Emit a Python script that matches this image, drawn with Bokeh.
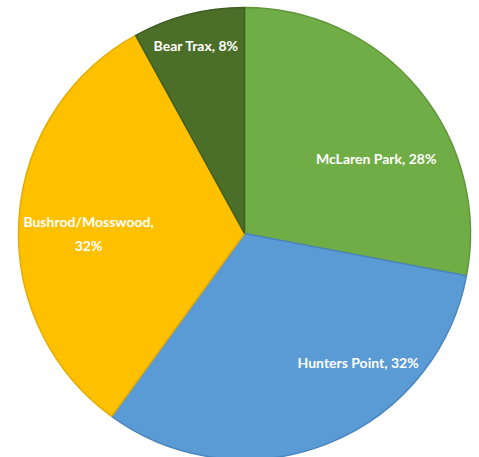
import math
from bokeh.plotting import figure
from bokeh.models import ColumnDataSource
from bokeh.core.properties import value
from bokeh.embed import file_html
from bokeh.resources import INLINE

# ---- data ----
categories = ["McLaren Park", "Hunters Point", "Bushrod/Mosswood", "Bear Trax"]
shares = [28, 32, 32, 8]
label_texts = ["McLaren Park, 28%", "Hunters Point, 32%", "Bushrod/Mosswood,\n32%", "Bear Trax, 8%"]

# ---- style ----
colors = ["#70AD47", "#5B9BD5", "#FFC000", "#4B6E29"]
edges = ["#5E9638", "#4A86BE", "#E5AC00", "#3F5E22"]
# label placement: fraction of radius and angular nudge (degrees, clockwise) from slice middle
label_rfrac = [0.67, 0.76, 0.69, 0.86]
label_nudge = [10.0, -19.8, -3.6, 0.0]

W, H = 479, 457
cx, cy, R = 244, 224, 226

total = float(sum(shares))
starts, ends, lx, ly = [], [], [], []
cum = 0.0
for s, rf, nd in zip(shares, label_rfrac, label_nudge):
    a0 = cum / total * 2 * math.pi
    cum += s
    a1 = cum / total * 2 * math.pi
    starts.append(math.pi / 2 - a0)
    ends.append(math.pi / 2 - a1)
    mid = (a0 + a1) / 2 + math.radians(nd)
    lx.append(cx + rf * R * math.sin(mid))
    ly.append(cy + rf * R * math.cos(mid))

src = ColumnDataSource(dict(cat=categories, start=starts, end=ends, color=colors, edge=edges))
lsrc = ColumnDataSource(dict(x=lx, y=ly, text=label_texts))

p = figure(width=W, height=H, x_range=(0, W), y_range=(0, H),
           output_backend="svg", toolbar_location=None, min_border=0)
p.axis.visible = False
p.grid.visible = False
p.outline_line_color = None
p.background_fill_color = "white"

p.wedge(x=cx, y=cy, radius=R, start_angle="start", end_angle="end", direction="clock",
        fill_color="color", line_color="edge", line_width=1.5, source=src)

p.text(x="x", y="y", text="text", source=lsrc, text_color="white",
       text_font=value("Lato"), text_font_style="bold", text_font_size="14px",
       text_align="center", text_baseline="middle", text_line_height=1.4)

open("out.html", "w").write(file_html(p, INLINE))
